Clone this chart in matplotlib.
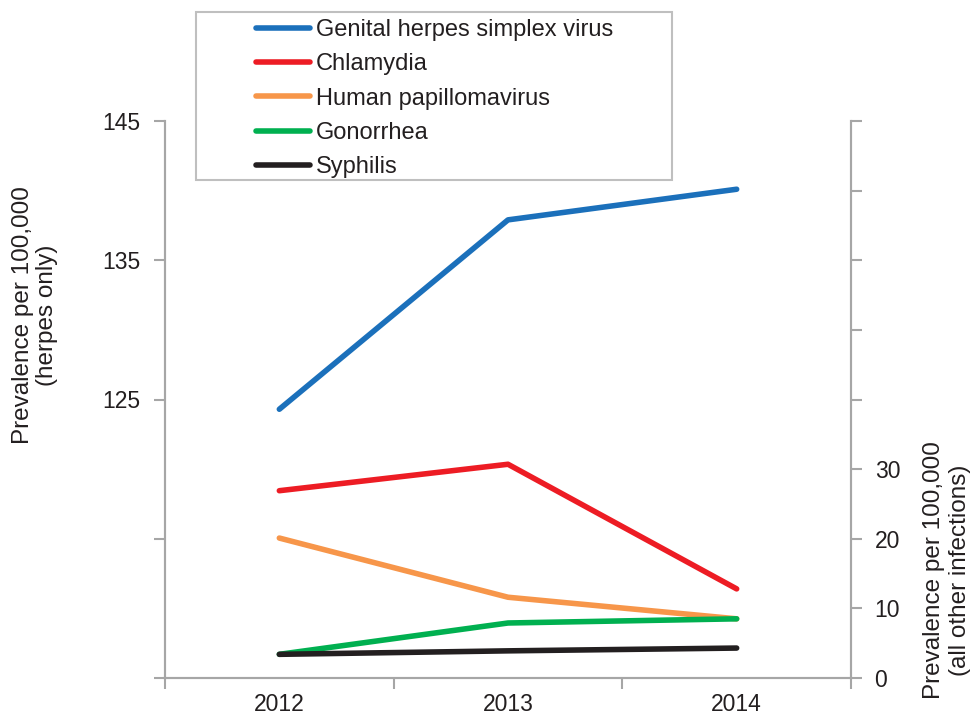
import matplotlib

matplotlib.use("Agg")
import matplotlib.pyplot as plt  # noqa: E402
from matplotlib.lines import Line2D  # noqa: E402
from matplotlib.patches import Rectangle  # noqa: E402

plt.rcParams["font.family"] = ["Liberation Sans", "DejaVu Sans"]

years = ["2012", "2013", "2014"]
herpes = [124.3, 137.9, 140.1]
chlamydia = [26.9, 30.7, 12.8]
hpv = [20.1, 11.6, 8.5]
gonorrhea = [3.4, 7.9, 8.5]
syphilis = [3.4, 3.9, 4.3]

left_ticks = [105, 115, 125, 135, 145]
left_labels = ["", "", "125", "135", "145"]
right_ticks = [0, 10, 20, 30, 40, 50, 60, 70, 80]
right_labels = ["0", "10", "20", "30", "", "", "", "", ""]

names = ["Genital herpes simplex virus", "Chlamydia", "Human papillomavirus",
         "Gonorrhea", "Syphilis"]
colors = ["#1b70bb", "#ed1c24", "#f7964a", "#00b050", "#231f20"]

spine_c = "#a6a6a6"
text_c = "#231f20"
lw = 4

fig = plt.figure(figsize=(9.73, 7.16), dpi=100)
ax = fig.add_axes([165 / 973, 1 - 678 / 716, 686 / 973, 557 / 716])
ax2 = ax.twinx()

x = list(range(len(years)))
ax.plot(x, herpes, color=colors[0], lw=lw, solid_capstyle="round", zorder=3)
for vals, c in zip([chlamydia, hpv, gonorrhea, syphilis], colors[1:]):
    ax2.plot(x, vals, color=c, lw=lw, solid_capstyle="round")

ax.set_xlim(-0.5, 2.5)
ax.set_ylim(105, 145)
ax2.set_ylim(0, 80)

ax.set_yticks(left_ticks)
ax.set_yticklabels(left_labels)
ax2.set_yticks(right_ticks)
ax2.set_yticklabels(right_labels)

ax.set_xticks([-0.5, 0.5, 1.5, 2.5])
ax.set_xticklabels([])
ax.set_xticks(x, minor=True)
ax.set_xticklabels(years, minor=True)

for a in (ax, ax2):
    a.spines["top"].set_visible(False)
    for s in ("left", "right", "bottom"):
        a.spines[s].set_color(spine_c)
        a.spines[s].set_linewidth(1.5)
    a.set_facecolor("none")

ax.tick_params(axis="y", which="major", length=8, width=1.5, color=spine_c,
               labelsize=16.5, labelcolor=text_c, pad=10)
ax2.tick_params(axis="y", which="major", length=8, width=1.5, color=spine_c,
                labelsize=16.5, labelcolor=text_c, pad=9)
ax.tick_params(axis="x", which="major", length=8, width=1.5, color=spine_c)
ax.tick_params(axis="x", which="minor", length=0, labelsize=16.5,
               labelcolor=text_c, pad=11)

fig.text(35 / 973, 1 - 315 / 716, "Prevalence per 100,000\n(herpes only)",
         rotation=90, ha="center", va="center", ma="center", fontsize=17.5,
         color=text_c, linespacing=1.15)
fig.text(947 / 973, 1 - 570 / 716, "Prevalence per 100,000\n(all other infections)",
         rotation=90, ha="center", va="center", ma="center", fontsize=17.5,
         color=text_c, linespacing=1.2)

# legend frame drawn separately so it can be wider than its entries
fig.patches.append(Rectangle((196 / 973, 1 - 180 / 716), 476 / 973, 168 / 716,
                             transform=fig.transFigure, facecolor="white",
                             edgecolor="#bfbfbf", linewidth=1.5, zorder=5))
handles = [Line2D([], [], color=c, lw=lw, solid_capstyle="round") for c in colors]
leg = fig.legend(handles, names, loc="upper left",
                 bbox_to_anchor=(256 / 973, 1 - 19 / 716), frameon=False,
                 fontsize=17, handlelength=2.3, handletextpad=0.25,
                 labelspacing=0.52, borderpad=0, borderaxespad=0)
leg.set_zorder(6)
for t in leg.get_texts():
    t.set_color(text_c)

fig.savefig("out.png", dpi=100)
